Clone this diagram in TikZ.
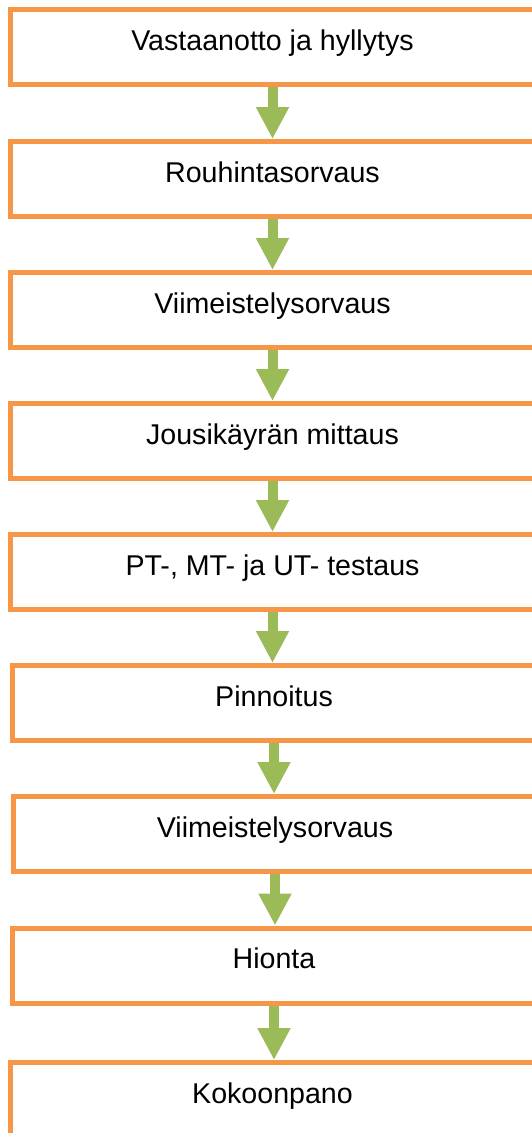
\documentclass[tikz,border=0pt]{standalone}
\usepackage{fontspec}
\setmainfont{Liberation Sans}
\usepackage{tikz}
\usetikzlibrary{positioning,arrows.meta}
\usepackage{xcolor}
\definecolor{boxorange}{HTML}{F79646}
\definecolor{arrowgreen}{HTML}{9BBB59}

\begin{document}
\begin{tikzpicture}[
    x=1pt, y=1pt,
    stage/.style={rectangle, draw=boxorange, line width=5pt, fill=white,
                  minimum width=524pt, minimum height=75pt,
                  text height=20pt, text depth=14pt,
                  font=\fontsize{28.6pt}{34pt}\selectfont, align=center},
    arrow/.style={-{Triangle[length=32pt, width=31pt]}, draw=arrowgreen,
                  line width=10pt},
]
\useasboundingbox (0,0) rectangle (532,-1133);
\clip (0,0) rectangle (532,-1133);

% Stages
\node[stage] (recv)    at (272.5, -47)    {Vastaanotto ja hyllytys};
\node[stage] (rough)   at (272.5, -179)   {Rouhintasorvaus};
\node[stage] (finA)    at (272.5, -310)   {Viimeistelysorvaus};
\node[stage] (measure) at (272.5, -441)   {Jousikäyrän mittaus};
\node[stage] (ndt)     at (272.5, -572)   {PT-, MT- ja UT- testaus};
\node[stage] (coat)    at (274, -703)     {Pinnoitus};
\node[stage] (finB)    at (275, -834)     {Viimeistelysorvaus};
\node[stage] (grind)   at (274, -965.5)   {Hionta};
\node[stage] (assy)    at (272.5, -1100)  {Kokoonpano};

% Flow
\foreach \a/\b in {recv/rough, rough/finA, finA/measure, measure/ndt,
                   ndt/coat, coat/finB, finB/grind, grind/assy} {
    \draw[arrow] (\a.south) -- (\a.south |- \b.north);
}
\end{tikzpicture}
\end{document}
